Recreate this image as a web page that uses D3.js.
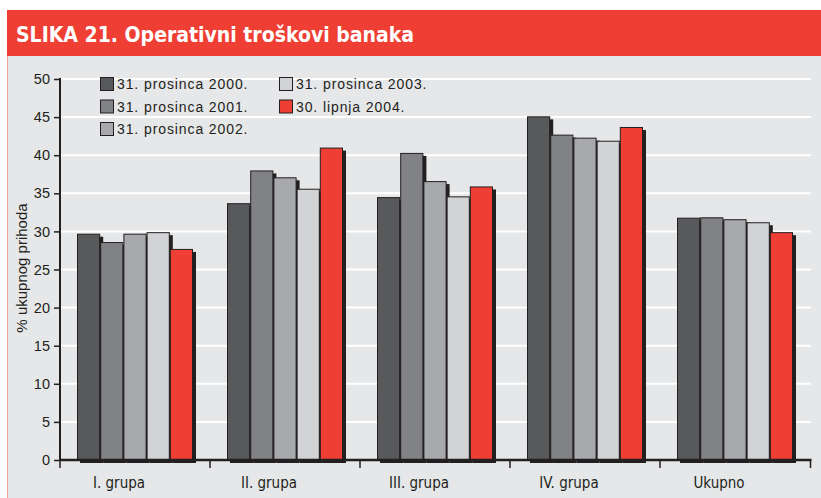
<!DOCTYPE html>
<html lang="hr">
<head>
<meta charset="utf-8">
<title>Operativni troškovi banaka</title>
<script src="https://d3js.org/d3.v7.min.js"></script>
<style>
  body { margin: 0; background: #fff; }
  svg { display: block; font-family: "Liberation Sans", Arial, sans-serif; }
  .title { font-family: "DejaVu Sans Condensed", "Liberation Sans Narrow", sans-serif; font-weight: bold; fill: #fff; }
  .grp { font-family: "DejaVu Sans Condensed", "Liberation Sans Narrow", sans-serif; fill: #231f20; }
</style>
</head>
<body>
<div id="chart"></div>
<script>
// data
var groups = ["I. grupa", "II. grupa", "III. grupa", "IV. grupa", "Ukupno"];
var seriesNames = ["31. prosinca 2000.", "31. prosinca 2001.", "31. prosinca 2002.", "31. prosinca 2003.", "30. lipnja 2004."];
var seriesColors = ["#58595b", "#808285", "#a7a9ac", "#d1d3d4", "#ef3e33"];
var values = [
  [29.7, 28.6, 29.7, 29.9, 27.7],   // I. grupa
  [33.7, 38.0, 37.1, 35.6, 41.0],   // II. grupa
  [34.5, 40.3, 36.6, 34.6, 35.9],   // III. grupa
  [45.1, 42.7, 42.3, 41.9, 43.7],   // IV. grupa
  [31.8, 31.85, 31.6, 31.2, 29.9]   // Ukupno
];
var yTicks = [0, 5, 10, 15, 20, 25, 30, 35, 40, 45, 50];

var W = 821, H = 498;
var svg = d3.select("#chart").append("svg")
    .attr("width", W)
    .attr("height", H);

// header + panel
svg.append("rect").attr("x", 7).attr("y", 10).attr("width", W - 7).attr("height", 46).attr("fill", "#ef3e33");
svg.append("rect").attr("x", 7).attr("y", 56).attr("width", W - 7).attr("height", H - 56).attr("fill", "#e6e7e8");
svg.append("line").attr("x1", 7.5).attr("x2", 7.5).attr("y1", 56).attr("y2", H)
    .attr("stroke", "#f4a09a").attr("stroke-width", 1);
svg.append("text").attr("class", "title")
    .attr("x", 16).attr("y", 42)
    .style("font-size", "21px")
    .text("SLIKA 21. Operativni troškovi banaka");

var x0 = d3.scaleBand().domain(groups).range([60, 810]).padding(0);
var x1 = d3.scaleBand().domain(d3.range(seriesNames.length)).range([17, 133]).padding(0);
var y = d3.scaleLinear().domain([0, 50]).range([460, 79]);

// gridlines
svg.append("g").selectAll("line")
  .data(yTicks.filter(function(t) { return t > 0; }))
  .enter().append("line")
    .attr("x1", 60).attr("x2", 811)
    .attr("y1", function(d) { return y(d); })
    .attr("y2", function(d) { return y(d); })
    .attr("stroke", "#fff").attr("stroke-width", 2);

// bars
var g = svg.append("g").selectAll("g")
  .data(values)
  .enter().append("g")
    .attr("transform", function(d, i) { return "translate(" + x0(groups[i]) + ",0)"; });

g.selectAll("g")
  .data(function(d) { return d; })
  .enter().append("g")
  .each(function(v, j) {
    var el = d3.select(this);
    el.append("rect")
      .attr("x", x1(j) + 3).attr("y", y(v) + 3)
      .attr("width", x1.bandwidth()).attr("height", y(0) - y(v))
      .attr("fill", "#231f20");
    el.append("rect")
      .attr("x", x1(j) + 0.5).attr("y", y(v) + 0.5)
      .attr("width", x1.bandwidth() - 1).attr("height", y(0) - y(v) - 0.5)
      .attr("fill", seriesColors[j])
      .attr("stroke", "#231f20").attr("stroke-width", 1);
  });

// y axis
var yAxis = svg.append("g").attr("transform", "translate(60,0)")
    .call(d3.axisLeft(y).tickValues(yTicks).tickSize(6).tickPadding(4));
yAxis.select(".domain").remove();
yAxis.selectAll(".tick line").attr("stroke", "#231f20").attr("stroke-width", 1.5);
yAxis.selectAll(".tick text").style("font-size", "14.5px").attr("fill", "#231f20")
    .style("font-family", "'Liberation Sans', Arial, sans-serif");
svg.append("line").attr("x1", 60).attr("x2", 60).attr("y1", 78).attr("y2", 461)
    .attr("stroke", "#231f20").attr("stroke-width", 2);

// x axis
svg.append("line").attr("x1", 59).attr("x2", 811.5).attr("y1", 460).attr("y2", 460)
    .attr("stroke", "#231f20").attr("stroke-width", 2.5);
svg.append("g").selectAll("line")
  .data(groups.concat(["end"]))
  .enter().append("line")
    .attr("x1", function(d, i) { return i < groups.length ? x0(d) : 810.5; })
    .attr("x2", function(d, i) { return i < groups.length ? x0(d) : 810.5; })
    .attr("y1", 460).attr("y2", 468)
    .attr("stroke", "#231f20").attr("stroke-width", 1.5);

svg.append("g").selectAll("text")
  .data(groups)
  .enter().append("text")
    .attr("class", "grp")
    .attr("x", function(d) { return x0(d) + 59; })
    .attr("y", 488)
    .attr("text-anchor", "middle")
    .style("font-size", "15px")
    .text(function(d) { return d; });

// y label
svg.append("text")
    .attr("transform", "translate(27,268) rotate(-90)")
    .attr("text-anchor", "middle")
    .style("font-size", "15px")
    .attr("fill", "#231f20")
    .text("% ukupnog prihoda");

// legend
var leg = svg.append("g").selectAll("g")
  .data(seriesNames)
  .enter().append("g")
    .attr("transform", function(d, i) {
      var col = i < 3 ? 0 : 1, row = i < 3 ? i : i - 3;
      return "translate(" + (100 + col * 179) + "," + (77 + row * 22.5) + ")";
    });
leg.append("rect").attr("x", 0.5).attr("y", 0.5).attr("width", 13).attr("height", 13)
    .attr("fill", function(d, i) { return seriesColors[i]; })
    .attr("stroke", "#231f20").attr("stroke-width", 1);
leg.append("text")
    .attr("x", 17).attr("y", 12)
    .style("font-size", "14px")
    .style("letter-spacing", "0.9px")
    .attr("fill", "#231f20")
    .text(function(d) { return d; });
</script>
</body>
</html>
